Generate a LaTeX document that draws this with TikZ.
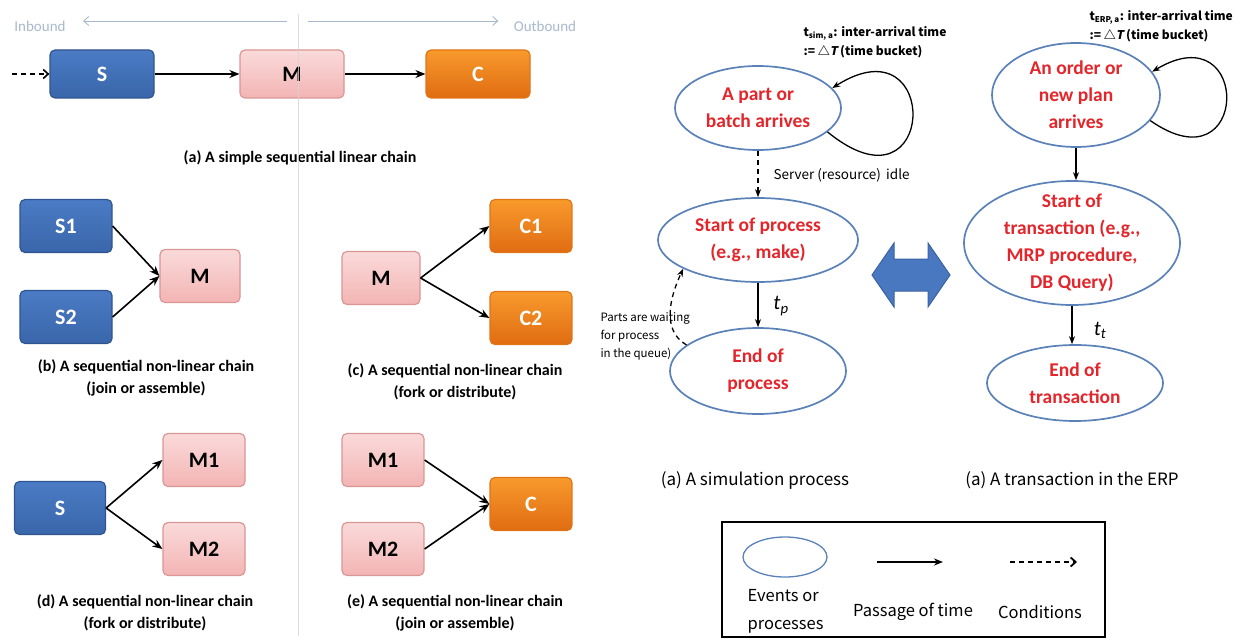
\documentclass[tikz,border=0pt]{standalone}
\usepackage{fontspec}
\setmainfont{Carlito}
\newfontfamily\kofont{Noto Sans CJK KR}
\newfontfamily\kofontsl{Noto Sans CJK KR}[FakeSlant=0.2]
\usetikzlibrary{arrows.meta,shapes.geometric}

\definecolor{sbluetop}{HTML}{4A7BC4}
\definecolor{sbluebot}{HTML}{3A66AA}
\definecolor{sblueline}{HTML}{2F5590}
\definecolor{mpinktop}{HTML}{FADADA}
\definecolor{mpinkbot}{HTML}{F3B4B4}
\definecolor{mpinkline}{HTML}{D99694}
\definecolor{corangetop}{HTML}{F89A2C}
\definecolor{corangebot}{HTML}{E06C12}
\definecolor{corangeline}{HTML}{E07418}
\definecolor{eline}{HTML}{5A82B8}
\definecolor{ered}{HTML}{E3262B}
\definecolor{eqblue}{HTML}{4A78C0}
\definecolor{eqline}{HTML}{3A62A2}
\definecolor{dirgray}{HTML}{A9B8CB}
\definecolor{divgray}{HTML}{D4D4D4}

\tikzset{
  box/.style={rectangle, rounded corners=5pt, line width=1.2pt, minimum width=92pt,
    minimum height=53pt, font=\fontsize{22}{24}\selectfont\bfseries},
  sbox/.style={box, draw=sblueline, top color=sbluetop, bottom color=sbluebot, text=white},
  mbox/.style={box, draw=mpinkline, top color=mpinktop, bottom color=mpinkbot, minimum width=82pt},
  cbox/.style={box, draw=corangeline, top color=corangetop, bottom color=corangebot, text=white, minimum width=82pt},
  chain/.style={line width=1.6pt, -{Stealth[length=10pt,width=8pt]}},
  caption/.style={align=center, font=\fontsize{16}{22}\selectfont\bfseries},
  dirlabel/.style={text=dirgray, font=\fontsize{15}{18}\selectfont},
  dirarrow/.style={draw=dirgray, line width=0.9pt, -{Straight Barb[length=5pt,width=9pt]}},
  event/.style={ellipse, draw=eline, line width=1.7pt, fill=white, inner sep=-40pt,
    text=ered, align=center, font=\fontsize{19.5}{27}\selectfont\bfseries},
  timearrow/.style={line width=1.3pt, -{Stealth[length=8pt,width=6pt]}},
  condarrow/.style={line width=1.3pt, dash pattern=on 5pt off 4pt, -{Stealth[length=8pt,width=6pt]}},
  note/.style={font=\kofont\fontsize{13.5}{19}\selectfont},
  tnote/.style={align=left, font=\kofont\fontsize{12}{19}\selectfont\bfseries},
  smallnote/.style={align=left, font=\kofont\fontsize{11.5}{18}\selectfont},
  ttag/.style={font=\fontsize{21}{24}\selectfont\itshape},
  legtext/.style={font=\kofont\fontsize{16.5}{28}\selectfont},
  subcap/.style={font=\kofont\fontsize{17}{20}\selectfont},
}

\begin{document}
\begin{tikzpicture}[x=1pt,y=1pt]
\useasboundingbox (0,0) rectangle (1238,-639);

% ---- left half: supply chain patterns ----
\node[dirlabel] (inb) at (40,-26) {Inbound};
\node[dirlabel] (outb) at (545,-26) {Outbound};
\coordinate (divl) at (287,-21);
\coordinate (divr) at (308,-21);
\draw[dirarrow, shorten >=14pt] (divl) -- (inb.east |- divl);
\draw[dirarrow, shorten >=12pt] (divr) -- (outb.west |- divr);

% (a)
\node[sbox, minimum width=104pt, minimum height=48pt] (sa) at (102,-74) {S};
\node[mbox, minimum width=104pt, minimum height=48pt] (ma) at (292,-74) {M};
\node[cbox, minimum width=104pt, minimum height=48pt] (ca) at (478,-74) {C};
\coordinate (feed) at (12,-74);
\draw[line width=1.6pt, dash pattern=on 5pt off 4pt, -{Straight Barb[length=5pt,width=9pt]}] (feed) -- (sa);
\draw[chain] (sa) -- (ma);
\draw[chain] (ma) -- (ca);
\node[caption] (capa) at (300,-158) {(a) A simple sequential linear chain};

% (b) join
\node[sbox] (sb1) at (66,-226) {S1};
\node[sbox] (sb2) at (66,-317) {S2};
\node[mbox, minimum width=80pt] (mb) at (200,-276) {M};
\foreach \s in {sb1,sb2}
  \draw[chain] (\s.east) -- (mb.west);
\node[caption] (capb) at (146,-378) {(b) A sequential non-linear chain\\(join or assemble)};

% (c) fork
\node[mbox, minimum width=78pt] (mc) at (381,-278) {M};
\node[cbox] (cc1) at (531,-226) {C1};
\node[cbox] (cc2) at (531,-318) {C2};
\foreach \c in {cc1,cc2}
  \draw[chain] (mc.east) -- (\c.west);
\node[caption] (capc) at (455,-382) {(c) A sequential non-linear chain\\(fork or distribute)};

% (d) fork
\node[sbox, minimum width=91pt] (sd) at (60,-508) {S};
\node[mbox] (md1) at (204,-460) {M1};
\node[mbox] (md2) at (204,-549) {M2};
\foreach \m in {md1,md2}
  \draw[chain] (sd.east) -- (\m.west);
\node[caption] (capd) at (145,-613) {(d) A sequential non-linear chain\\(fork or distribute)};

% (e) join
\node[mbox] (me1) at (383,-460) {M1};
\node[mbox] (me2) at (383,-549) {M2};
\node[cbox] (ce) at (531,-504) {C};
\foreach \m in {me1,me2}
  \draw[chain] (\m.east) -- (ce.west);
\node[caption] (cape) at (455,-613) {(e) A sequential non-linear chain\\(join or assemble)};

\draw[divgray, line width=1pt, opacity=0.8] (298,-14) -- (298,-636);

% ---- right half: simulation vs. ERP ----
\node[event, minimum width=166pt, minimum height=84pt] (arr1) at (758,-108) {A part or\\batch arrives};
\node[event, minimum width=200pt, minimum height=84pt] (start1) at (758,-240) {Start of process\\(e.g., make)};
\node[event, minimum width=176pt, minimum height=86pt] (end1) at (758,-371) {End of\\process};
\draw[timearrow] (arr1.-19) .. controls +(110,-90) and +(110,70) .. (arr1.15);
\node[tnote, anchor=west] (tsim) at (800,-42)
  {\textit{t}\textsubscript{\textit{sim, a}}: inter-arrival time\\:= △\kofontsl T \kofont\bfseries(time bucket)};
\draw[condarrow] (arr1.south) -- (start1.north);
\node[note, anchor=west] (idle) at (770,-175) {Server (resource)\, idle};
\draw[timearrow] (start1.south) -- (end1.north);
\node[ttag] (tp) at (781,-306) {t\textsubscript{p}};
\draw[condarrow] (end1.160) to[out=150, in=-115] (start1.-159);
\node[smallnote, anchor=west] (queue) at (597,-336) {Parts are waiting\\for process\\in the queue)};

\filldraw[fill=eqblue, draw=eqline, line width=1pt]
  (872,-275) -- (894,-243) -- (894,-259) -- (928,-259) -- (928,-243) -- (950,-275)
  -- (928,-307) -- (928,-291) -- (894,-291) -- (894,-307) -- cycle;

\node[event, minimum width=168pt, minimum height=104pt] (arr2) at (1076,-95) {An order or\\new plan\\arrives};
\node[event, minimum width=216pt, minimum height=124pt] (start2) at (1072,-243)
  {Start of\\transaction (e.g.,\\MRP procedure,\\DB Query)};
\node[event, minimum width=176pt, minimum height=76pt] (end2) at (1075,-383) {End of\\transaction};
\draw[timearrow] (arr2.-19) .. controls +(100,-70) and +(100,60) .. (arr2.17);
\node[tnote, anchor=west] (terp) at (1086,-26)
  {\textit{t}\textsubscript{\textit{ERP, a}}: inter-arrival time\\:= △\kofontsl T \kofont\bfseries(time bucket)};
\draw[timearrow] (arr2.south) -- (arr2.south |- start2.north);
\draw[timearrow] (start2.south) -- (start2.south |- end2.north);
\node[ttag] (tt) at (1100,-330) {t\textsubscript{t}};

\node[subcap] (capsim) at (755,-480) {(a) A simulation process};
\node[subcap] (caperp) at (1072,-480) {(a) A transaction in the ERP};

% legend
\draw[line width=1.2pt] (722,-522) rectangle (1105,-637);
\node[event, line width=1.3pt, minimum width=84pt, minimum height=40pt] (lev) at (785,-557) {};
\node[legtext, align=left, anchor=west] (levt) at (744,-611) {Events or\\processes};
\coordinate (lt1) at (877,-562);
\coordinate (lt2) at (943,-562);
\draw[line width=1.8pt, -{Stealth[length=9pt,width=7pt]}] (lt1) -- (lt2);
\node[legtext] (ltime) at (913,-612) {Passage of time};
\coordinate (lc1) at (1010,-562);
\coordinate (lc2) at (1077,-562);
\draw[line width=1.8pt, dash pattern=on 5pt off 4pt, -{Straight Barb[length=5pt,width=9pt]}] (lc1) -- (lc2);
\node[legtext] (lcond) at (1040,-612) {Conditions};
\end{tikzpicture}
\end{document}
